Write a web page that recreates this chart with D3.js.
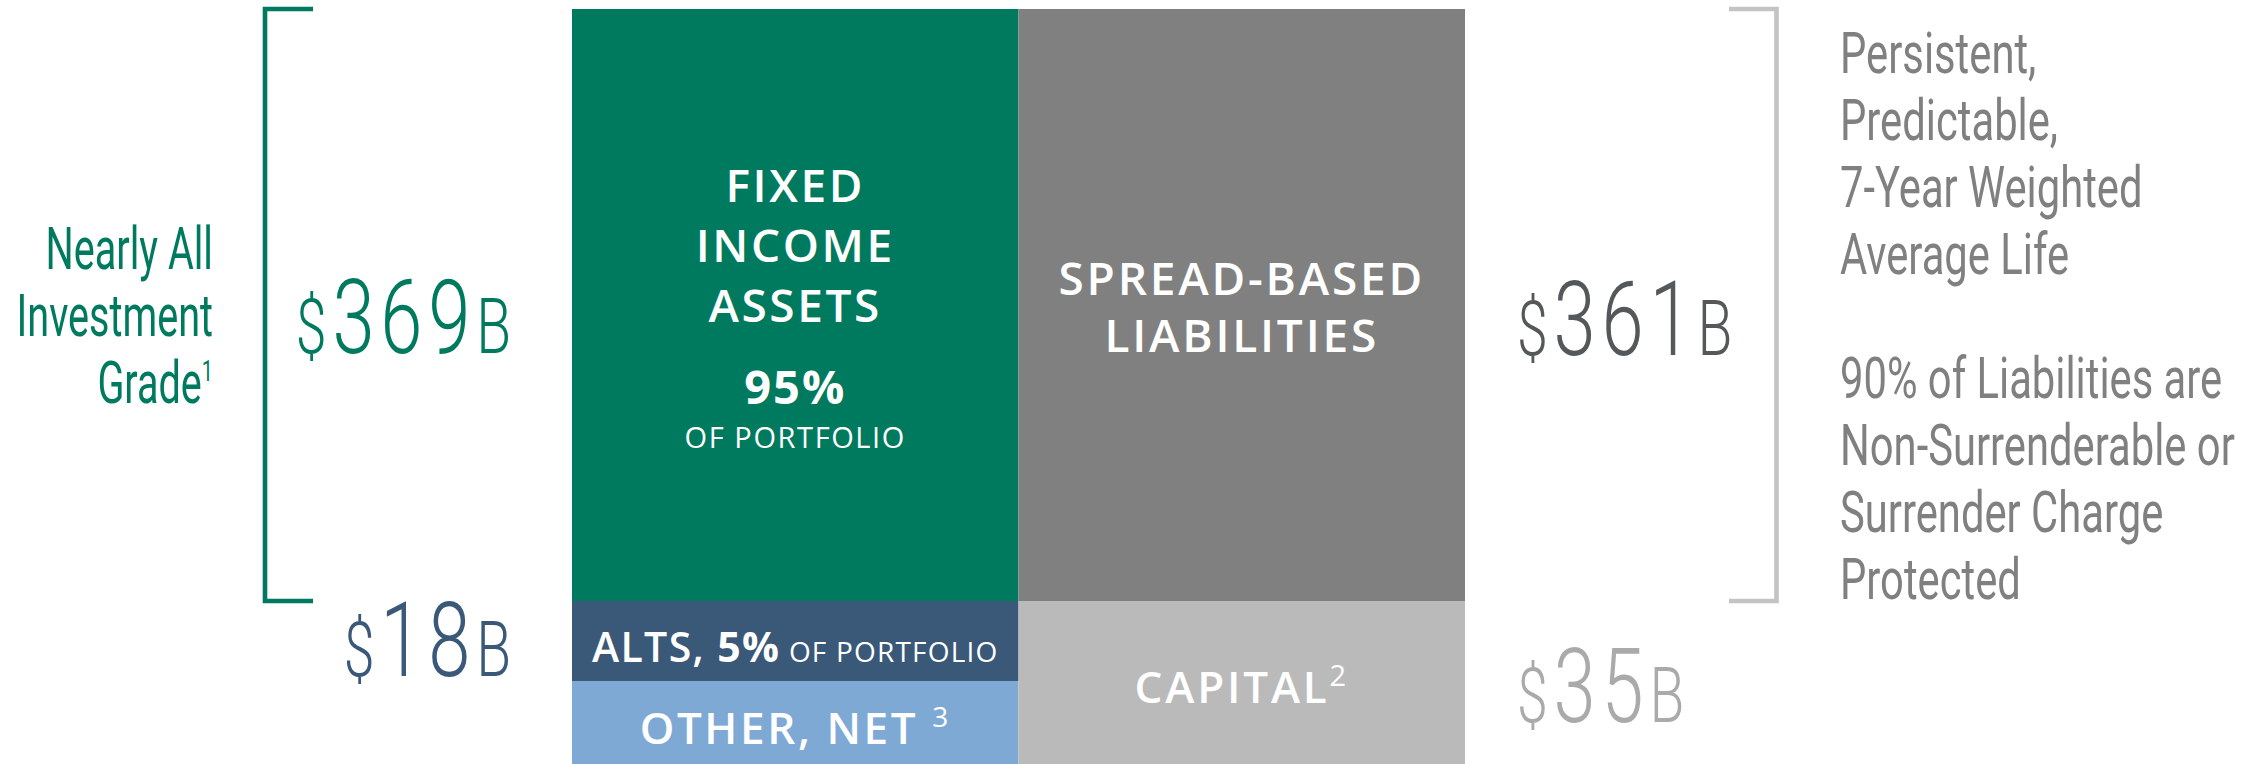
<!DOCTYPE html>
<html lang="en">
<head>
    <meta charset="UTF-8">
    <title>Balance sheet</title>
    <script src="https://d3js.org/d3.v7.min.js" charset="utf-8"></script>
    <style>
        body { margin: 0; background: #fff; }
        .block-label { font-family: "Open Sans", sans-serif; fill: #fff; }
        .cond { font-family: Roboto, sans-serif; font-weight: 400; }
        .big { font-weight: 300; }
    </style>
</head>
<body>
<script>
    // data
    let columns = ['Assets', 'Liabilities'];
    let assetNames = ['FIXED INCOME ASSETS', 'ALTS', 'OTHER, NET'];
    let assetValues = [369, 18];          // $B, other net is not labelled
    let portfolioShare = [95, 5];         // % of portfolio
    let liabilityNames = ['SPREAD-BASED LIABILITIES', 'CAPITAL'];
    let liabilityValues = [361, 35];      // $B
    let assetTiers = [0, 1, 2, 3];        // block boundaries, in layout rows
    let liabilityTiers = [0, 1, 3];
    let leftNote = ['Nearly All', 'Investment', 'Grade'];
    let rightNote1 = ['Persistent,', 'Predictable,', '7-Year Weighted', 'Average Life'];
    let rightNote2 = ['90% of Liabilities are', 'Non-Surrenderable or', 'Surrender Charge', 'Protected'];

    let green = '#007a5e', navy = '#3a5878', sky = '#7fa9d5',
        grey = '#808080', lightGrey = '#bababa', bracketGrey = '#c3c3c3';

    let W = 2258, H = 764;
    let svg = d3.select('body').append('svg').attr('width', W).attr('height', H);

    //scales: two columns side by side, rows are not proportional in the original
    let x = d3.scaleBand().domain(columns).range([572, 1465]).paddingInner(0);
    let y = d3.scaleLinear().domain([0, 1, 2, 3]).range([9, 601, 681, 764]);

    let assetColors = [green, navy, sky];
    let liabColors = [grey, lightGrey];

    let blocks = [];
    assetNames.forEach(function (n, i) {
        blocks.push({col: 'Assets', name: n, t0: assetTiers[i], t1: assetTiers[i + 1], color: assetColors[i]});
    });
    liabilityNames.forEach(function (n, i) {
        blocks.push({col: 'Liabilities', name: n, t0: liabilityTiers[i], t1: liabilityTiers[i + 1], color: liabColors[i]});
    });

    svg.selectAll('rect.block')
        .data(blocks).enter()
        .append('rect')
        .attr('class', 'block')
        .attr('x', function (d) { return x(d.col); })
        .attr('y', function (d) { return y(d.t0); })
        .attr('width', x.bandwidth())
        .attr('height', function (d) { return y(d.t1) - y(d.t0); })
        .attr('fill', function (d) { return d.color; });

    let cxA = x('Assets') + x.bandwidth() / 2;
    let cxL = x('Liabilities') + x.bandwidth() / 2;
    function mid(t0, t1) { return (y(t0) + y(t1)) / 2; }

    // labels inside the blocks
    let fixedWords = assetNames[0].split(' ');
    let fiMid = mid(0, 1);
    svg.selectAll('text.fi')
        .data(fixedWords).enter()
        .append('text')
        .attr('class', 'block-label fi')
        .attr('x', cxA)
        .attr('y', function (d, i) { return fiMid - 103 + i * 60; })
        .attr('text-anchor', 'middle')
        .attr('font-size', 46)
        .attr('font-weight', 600)
        .attr('letter-spacing', 2.6)
        .text(function (d) { return d; });
    svg.append('text')
        .attr('class', 'block-label')
        .attr('x', cxA).attr('y', fiMid + 99)
        .attr('text-anchor', 'middle')
        .attr('font-size', 47).attr('font-weight', 700).attr('letter-spacing', 2)
        .text(portfolioShare[0] + '%');
    svg.append('text')
        .attr('class', 'block-label')
        .attr('x', cxA).attr('y', fiMid + 143)
        .attr('text-anchor', 'middle')
        .attr('font-size', 29).attr('font-weight', 400).attr('letter-spacing', 1.6)
        .text('OF PORTFOLIO');

    let alts = svg.append('text')
        .attr('class', 'block-label')
        .attr('x', cxA).attr('y', mid(1, 2) + 21)
        .attr('text-anchor', 'middle')
        .attr('letter-spacing', 1.4);
    alts.append('tspan').attr('font-size', 41).attr('font-weight', 600).text(assetNames[1] + ', ');
    alts.append('tspan').attr('font-size', 41).attr('font-weight', 700).text(portfolioShare[1] + '%');
    alts.append('tspan').attr('font-size', 28).attr('font-weight', 400).attr('letter-spacing', 1.2).text(' OF PORTFOLIO');

    let other = svg.append('text')
        .attr('class', 'block-label')
        .attr('x', cxA).attr('y', mid(2, 3) + 21)
        .attr('text-anchor', 'middle')
        .attr('letter-spacing', 2.6);
    other.append('tspan').attr('font-size', 44).attr('font-weight', 600).text(assetNames[2] + ' ');
    other.append('tspan').attr('font-size', 28).attr('font-weight', 400).attr('dy', -17).text('3');

    let liabWords = ['SPREAD-BASED', 'LIABILITIES'];
    svg.selectAll('text.liab')
        .data(liabWords).enter()
        .append('text')
        .attr('class', 'block-label liab')
        .attr('x', cxL)
        .attr('y', function (d, i) { return mid(0, 1) - 10 + i * 57; })
        .attr('text-anchor', 'middle')
        .attr('font-size', 46)
        .attr('font-weight', 600)
        .attr('letter-spacing', 2.8)
        .text(function (d) { return d; });

    let cap = svg.append('text')
        .attr('class', 'block-label')
        .attr('x', cxL).attr('y', mid(1, 3) + 20)
        .attr('text-anchor', 'middle')
        .attr('letter-spacing', 2.8);
    cap.append('tspan').attr('font-size', 44).attr('font-weight', 600).text(liabilityNames[1]);
    cap.append('tspan').attr('font-size', 29).attr('font-weight', 400).attr('dy', -17).text('2');

    // condensed text: Roboto squeezed horizontally
    function condensed(px, py, anchor, sx) {
        return svg.append('g')
            .attr('transform', 'translate(' + px + ',' + py + ') scale(' + sx + ',1)')
            .append('text')
            .attr('class', 'cond')
            .attr('text-anchor', anchor);
    }

    function bigValue(v, px, py, anchor, color) {
        let t = condensed(px, py, anchor, 0.73).classed('big', true).attr('fill', color).attr('letter-spacing', 8);
        t.append('tspan').attr('font-size', 76).text('$');
        t.append('tspan').attr('font-size', 104).text(v);
        t.append('tspan').attr('font-size', 78).text('B');
    }
    bigValue(assetValues[0], 517, mid(0, 1) + 48, 'end', green);
    bigValue(assetValues[1], 517, mid(1, 2) + 35, 'end', navy);
    bigValue(liabilityValues[0], 1517, mid(0, 1) + 50, 'start', '#54585a');
    bigValue(liabilityValues[1], 1517, mid(1, 3) + 39, 'start', '#aaaaaa');

    // left note
    leftNote.forEach(function (line, i) {
        let t = condensed(213, 269 + i * 67, 'end', 0.66).attr('font-size', 60).attr('fill', green);
        t.append('tspan').text(line);
        if (i === leftNote.length - 1) {
            t.append('tspan').attr('font-size', 30).attr('dy', -22).text('1');
        }
    });

    // right notes
    rightNote1.forEach(function (line, i) {
        condensed(1840, 73 + i * 67, 'start', 0.72).attr('font-size', 58).attr('fill', grey).text(line);
    });
    rightNote2.forEach(function (line, i) {
        condensed(1840, 398 + i * 67, 'start', 0.72).attr('font-size', 58).attr('fill', grey).text(line);
    });

    // brackets round the top row
    let line = d3.line();
    svg.append('path')
        .attr('d', line([[313, y(0)], [265, y(0)], [265, y(1)], [313, y(1)]]))
        .attr('fill', 'none').attr('stroke', green).attr('stroke-width', 4.6);
    svg.append('path')
        .attr('d', line([[1729, y(0)], [1776.5, y(0)], [1776.5, y(1)], [1729, y(1)]]))
        .attr('fill', 'none').attr('stroke', bracketGrey).attr('stroke-width', 4.6);
</script>
</body>
</html>
